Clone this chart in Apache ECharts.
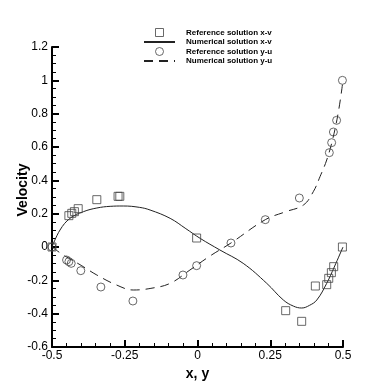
<!DOCTYPE html>
<html>
<head>
<meta charset="utf-8">
<script src="https://cdn.jsdelivr.net/npm/echarts@6/dist/echarts.min.js"></script>
<style>
  html, body { margin: 0; padding: 0; background: #fff; }
  #chart { width: 390px; height: 390px; }
</style>
</head>
<body>
<div id="chart"></div>
<script>
// 参考解 x-v (squares)
const refXV_x = [-0.5, -0.442, -0.432, -0.423, -0.410, -0.346, -0.273, -0.267, -0.003, 0.303, 0.358, 0.405, 0.444, 0.451, 0.460, 0.468, 0.498];
const refXV_v = [0.0, 0.188, 0.202, 0.212, 0.230, 0.284, 0.304, 0.304, 0.054, -0.382, -0.446, -0.234, -0.226, -0.188, -0.154, -0.118, 0.0];

// 数值解 x-v (solid line)
const numXV_x = [-0.5, -0.4725, -0.438, -0.392, -0.346, -0.3, -0.255, -0.2, -0.163, -0.094, -0.04, 0.009, 0.077, 0.157, 0.238, 0.295, 0.33, 0.358, 0.385, 0.41, 0.444, 0.47, 0.5];
const numXV_v = [0, 0.102, 0.172, 0.212, 0.234, 0.244, 0.246, 0.238, 0.222, 0.172, 0.11, 0.052, -0.018, -0.098, -0.218, -0.318, -0.355, -0.366, -0.35, -0.318, -0.218, -0.12, 0];

// 参考解 y-u (circles)
const refYU_y = [-0.5, -0.45, -0.442, -0.434, -0.401, -0.332, -0.222, -0.05, -0.003, 0.115, 0.233, 0.35, 0.453, 0.461, 0.467, 0.478, 0.498];
const refYU_u = [0.0, -0.078, -0.088, -0.098, -0.142, -0.240, -0.324, -0.168, -0.112, 0.024, 0.164, 0.294, 0.566, 0.626, 0.690, 0.760, 1.0];

// 数值解 y-u (dashed line)
const numYU_y = [-0.5, -0.461, -0.4, -0.346, -0.278, -0.221, -0.16, -0.094, -0.026, 0.043, 0.115, 0.233, 0.3, 0.364, 0.398, 0.421, 0.444, 0.465, 0.485, 0.5];
const numYU_u = [0, -0.048, -0.11, -0.168, -0.228, -0.258, -0.248, -0.218, -0.138, -0.054, 0.024, 0.164, 0.21, 0.252, 0.332, 0.422, 0.522, 0.65, 0.82, 1.0];

const xTicks = [-0.5, -0.25, 0, 0.25, 0.5];
const yTicks = [-0.6, -0.4, -0.2, 0, 0.2, 0.4, 0.6, 0.8, 1, 1.2];

const names = ["Reference solution x-v", "Numerical solution x-v", "Reference solution y-u", "Numerical solution y-u"];

function pairs(xs, ys) {
  return xs.map((x, i) => [x, ys[i]]);
}

const FONT = "Liberation Sans";
const SQUARE = "path://M0,0H10V10H0Z";
// 图例里线条不画点
const noDot = { opacity: 0, borderWidth: 0 };
const symBorder = { color: "rgba(0,0,0,0)", borderColor: "#444", borderWidth: 1 };

let mychart = echarts.init(document.getElementById("chart"));
mychart.setOption({
  animation: false,
  backgroundColor: "#fff",
  textStyle: { fontFamily: FONT },
  grid: { left: 52, right: 47, top: 47, bottom: 43, outerBoundsMode: "none" },
  legend: {
    orient: "vertical",
    left: 143,
    top: 28,
    padding: 0,
    itemWidth: 31,
    itemHeight: 8,
    itemGap: 0.5,
    textStyle: { fontSize: 8, fontWeight: "bold", color: "#000", fontFamily: FONT, lineHeight: 9, padding: [0, 0, 0, 6] },
    data: [
      { name: names[0], itemStyle: symBorder },
      { name: names[1], itemStyle: noDot },
      { name: names[2], itemStyle: symBorder },
      { name: names[3], itemStyle: noDot }
    ]
  },
  xAxis: {
    type: "value",
    min: xTicks[0],
    max: xTicks[xTicks.length - 1],
    interval: 0.25,
    name: "x, y",
    nameLocation: "middle",
    nameGap: 16,
    nameTextStyle: { fontSize: 14, fontWeight: "bold", color: "#000", fontFamily: FONT },
    axisLine: { onZero: false, lineStyle: { color: "#000", width: 2 } },
    axisTick: { inside: true, length: 7, lineStyle: { color: "#000", width: 2 } },
    minorTick: { show: true, splitNumber: 5, length: 4, lineStyle: { color: "#000", width: 1 } },
    axisLabel: { color: "#000", fontSize: 12, margin: 3, fontFamily: FONT },
    splitLine: { show: false }
  },
  yAxis: {
    type: "value",
    min: yTicks[0],
    max: yTicks[yTicks.length - 1],
    interval: 0.2,
    name: "Velocity",
    nameLocation: "middle",
    nameGap: 22,
    nameMoveOverlap: false,
    nameTextStyle: { fontSize: 14, fontWeight: "bold", color: "#000", fontFamily: FONT, padding: [0, 0, 0, 14] },
    axisLine: { onZero: false, lineStyle: { color: "#000", width: 2 } },
    axisTick: { inside: true, length: 7, lineStyle: { color: "#000", width: 2 } },
    minorTick: { show: true, splitNumber: 4, length: 4, lineStyle: { color: "#000", width: 1 } },
    axisLabel: { color: "#000", fontSize: 12, margin: 4, fontFamily: FONT },
    splitLine: { show: false }
  },
  series: [
    {
      name: names[1],
      type: "line",
      smooth: 0.4,
      symbol: "none",
      data: pairs(numXV_x, numXV_v),
      lineStyle: { color: "#222", width: 1, type: "solid" },
      itemStyle: { color: "#222" },
      z: 2
    },
    {
      name: names[3],
      type: "line",
      smooth: 0.4,
      symbol: "none",
      data: pairs(numYU_y, numYU_u),
      lineStyle: { color: "#222", width: 1, type: [9, 6] },
      itemStyle: { color: "#222" },
      z: 2
    },
    {
      name: names[0],
      type: "scatter",
      symbol: SQUARE,
      symbolKeepAspect: true,
      symbolSize: 8,
      data: pairs(refXV_x, refXV_v),
      itemStyle: symBorder,
      z: 3
    },
    {
      name: names[2],
      type: "scatter",
      symbol: "circle",
      symbolSize: 8,
      data: pairs(refYU_y, refYU_u),
      itemStyle: symBorder,
      z: 3
    }
  ]
});
</script>
</body>
</html>
